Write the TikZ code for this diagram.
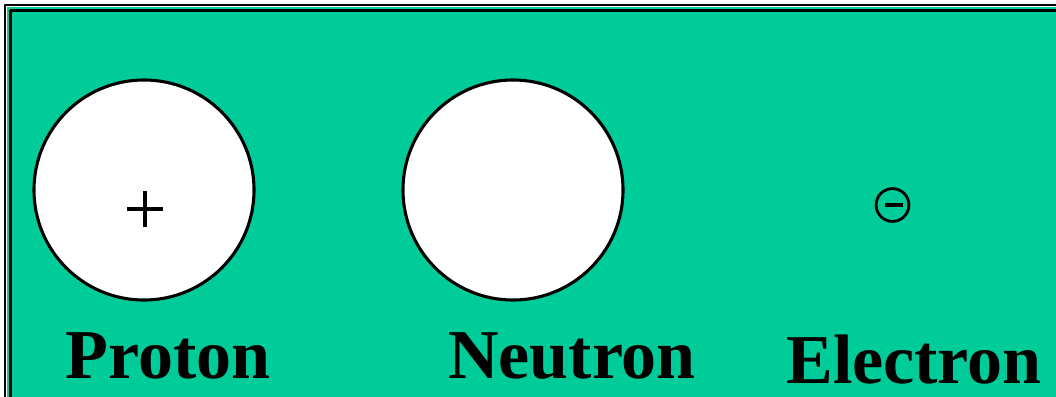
\documentclass[tikz,border=0pt]{standalone}
\usepackage{fontspec}
\setmainfont{Liberation Serif}
\definecolor{slidegreen}{RGB}{0,204,153}
\begin{document}
\begin{tikzpicture}[
    x=0.025cm,
    y=-0.025cm,
    line join=round,
    particle/.style={circle, draw=black, fill=white, line width=2.2pt,
        minimum size=5.5cm, inner sep=0pt},
    partname/.style={anchor=base, font=\bfseries\fontsize{49.8}{52}\selectfont}
]
    \useasboundingbox (0,0) rectangle (1056,396);
    \clip (0,0) rectangle (1056,396);

    % 边框
    \fill[white] (0,0) rectangle (1056,396);
    \draw[line width=1.6pt] (5,5) rectangle (1120,460);
    \fill[slidegreen] (7,7) rectangle (1120,460);
    \draw[line width=1.8pt] (10.5,10.5) rectangle (1120,460);

    % 质子与中子
    \node[particle] (proton) at (144,190) {};
    \node[particle] (neutron) at (513,190) {};

    % 正电荷
    \draw[line width=2.8pt] (127,209) -- (163,209);
    \draw[line width=2.8pt] (145,191) -- (145,227);

    % 电子
    \node[circle, draw, line width=2pt, minimum size=0.82cm, inner sep=0pt]
        (electron) at (892.5,205) {};
    \draw[line width=2.4pt] (885,205) -- (903,205);

    % 名称
    \node[partname] (protonname) at (168,378) {Proton};
    \node[partname] (neutronname) at (572,378) {Neutron};
    \node[partname] (electronname) at (914,383) {Electron};
\end{tikzpicture}
\end{document}
